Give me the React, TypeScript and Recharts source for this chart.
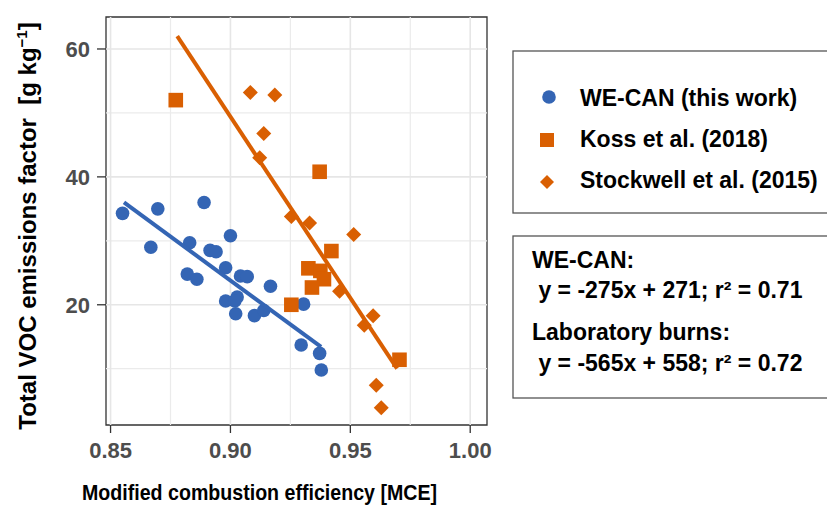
import React from 'react';
import { ScatterChart, Scatter, XAxis, YAxis, ReferenceLine, ReferenceArea } from 'recharts';

const BLUE = '#3465b4';
const ORANGE = '#d95f02';
const FONT = '"Liberation Sans", Arial, Helvetica, sans-serif';

// WE-CAN (this work)
const weCanMce = [0.855, 0.8697, 0.889, 0.8668, 0.883, 0.9, 0.8915, 0.894, 0.898, 0.882, 0.886, 0.9042,
  0.907, 0.9167, 0.898, 0.9028, 0.9018, 0.9022, 0.91, 0.9139, 0.9295, 0.9305, 0.9372, 0.9379];
const weCanEf = [34.3, 35.0, 36.0, 29.0, 29.7, 30.8, 28.5, 28.3, 25.8, 24.8, 24.0, 24.5,
  24.4, 22.9, 20.6, 21.2, 20.6, 18.6, 18.3, 19.1, 13.7, 20.1, 12.4, 9.8];

// Koss et al. (2018)
const kossMce = [0.8772, 0.9372, 0.9421, 0.9325, 0.9375, 0.939, 0.934, 0.9254, 0.9705];
const kossEf = [52.0, 40.8, 28.4, 25.7, 25.3, 24.0, 22.7, 20.0, 11.4];

// Stockwell et al. (2015)
const stockwellMce = [0.9083, 0.9185, 0.9139, 0.9122, 0.9254, 0.933, 0.9514, 0.9455, 0.9595, 0.9558, 0.9608, 0.9629];
const stockwellEf = [53.2, 52.8, 46.8, 43.0, 33.8, 32.8, 31.0, 22.1, 18.3, 16.8, 7.4, 3.9];

// fit line end points
const weCanFitMce = [0.8556, 0.9378];
const weCanFitEf = [36.0, 13.4];
const labFitMce = [0.8778, 0.9695];
const labFitEf = [62.0, 10.0];

const xTicks = [0.85, 0.9, 0.95, 1.0];
const xMinor = [0.875, 0.925, 0.975];
const yTicks = [20, 40, 60];
const yMinor = [10, 30, 50];
const xDomain: [number, number] = [0.8481, 1.007];
const yDomain: [number, number] = [1.2, 65];

const legendItems = ['WE-CAN (this work)', 'Koss et al. (2018)', 'Stockwell et al. (2015)'];
const equationLines = ['WE-CAN:', ' y = -275x + 271; r² = 0.71', 'Laboratory burns:', ' y = -565x + 558; r² = 0.72'];

const toPoints = (xs: number[], ys: number[]) => xs.map((mce, i) => ({ mce, ef: ys[i] }));

const weCanData = toPoints(weCanMce, weCanEf);
const kossData = toPoints(kossMce, kossEf);
const stockwellData = toPoints(stockwellMce, stockwellEf);
const weCanFit = toPoints(weCanFitMce, weCanFitEf);
const labFit = toPoints(labFitMce, labFitEf);

const Dot = (props: any) => <circle cx={props.cx} cy={props.cy} r={6.8} fill={BLUE} />;
const Square = (props: any) => (
  <rect x={props.cx - 7.3} y={props.cy - 7.3} width={14.6} height={14.6} fill={ORANGE} />
);
const Diamond = (props: any) => {
  const { cx, cy } = props;
  const r = 7.5;
  return <polygon points={`${cx},${cy - r} ${cx + r},${cy} ${cx},${cy + r} ${cx - r},${cy}`} fill={ORANGE} />;
};
const NoMark = () => <g />;

const tickStyle = { fill: '#4d4d4d', fontSize: 22, fontWeight: 'bold', fontFamily: FONT };

const Overlay: React.FC = () => (
  <svg
    width={827}
    height={506}
    style={{ position: 'absolute', left: 0, top: 0, pointerEvents: 'none' }}
    fontFamily={FONT}
    fontWeight="bold"
  >
    {/* axis titles */}
    <text x={82} y={500} fontSize={22} fill="#000" textLength={355} lengthAdjust="spacingAndGlyphs">
      Modified combustion efficiency [MCE]
    </text>
    <text x={36} y={226} fontSize={24} fill="#000" textAnchor="middle" transform="rotate(-90, 36, 226)">
      Total VOC emissions factor{'\u00a0\u00a0'}[g kg<tspan dy={-9} fontSize={15}>−1</tspan>
      <tspan dy={9}>]</tspan>
    </text>

    {/* legend */}
    <rect x={513} y={51} width={330} height={162} fill="#fff" stroke="#555" strokeWidth={1.3} />
    <circle cx={549} cy={97} r={6.8} fill={BLUE} />
    <rect x={540} y={133} width={14} height={14} fill={ORANGE} />
    <polygon points="547,175 554,182 547,189 540,182" fill={ORANGE} />
    {legendItems.map((label, i) => (
      <text key={label} x={580} y={106 + i * 41} fontSize={23} fill="#000">
        {label}
      </text>
    ))}

    {/* equations */}
    <rect x={513} y={236} width={330} height={162} fill="#fff" stroke="#555" strokeWidth={1.3} />
    {equationLines.map((line, i) => (
      <text
        key={line}
        x={532}
        y={[268, 298, 340, 371][i]}
        fontSize={23}
        fill="#000"
        style={{ whiteSpace: 'pre' }}
      >
        {line}
      </text>
    ))}
  </svg>
);

export default function App() {
  return (
    <div style={{ position: 'absolute', left: 0, top: 0, width: 827, height: 506, overflow: 'hidden', background: '#fff' }}>
      <ScatterChart width={827} height={506} margin={{ top: 17, right: 340, bottom: 31, left: 46 }}>
        {xMinor.map((v) => (
          <ReferenceLine key={`xm-${v}`} x={v} stroke="#ebebeb" strokeWidth={1.2} />
        ))}
        {yMinor.map((v) => (
          <ReferenceLine key={`ym-${v}`} y={v} stroke="#ebebeb" strokeWidth={1.2} />
        ))}
        {xTicks.map((v) => (
          <ReferenceLine key={`x-${v}`} x={v} stroke="#e6e6e6" strokeWidth={1.6} />
        ))}
        {yTicks.map((v) => (
          <ReferenceLine key={`y-${v}`} y={v} stroke="#e6e6e6" strokeWidth={1.6} />
        ))}
        <XAxis
          type="number"
          dataKey="mce"
          domain={xDomain}
          ticks={xTicks}
          interval={0}
          allowDataOverflow
          axisLine={false}
          tickLine={{ stroke: '#333', strokeWidth: 1.3 }}
          tickSize={8}
          tickMargin={9}
          height={50}
          tick={tickStyle}
          tickFormatter={(v: number) => v.toFixed(2)}
        />
        <YAxis
          type="number"
          dataKey="ef"
          domain={yDomain}
          ticks={yTicks}
          interval={0}
          allowDataOverflow
          axisLine={false}
          tickLine={{ stroke: '#333', strokeWidth: 1.3 }}
          tickSize={9}
          tickMargin={7}
          width={60}
          tick={tickStyle}
        />
        <Scatter data={weCanData} shape={Dot} isAnimationActive={false} />
        <Scatter data={kossData} shape={Square} isAnimationActive={false} />
        <Scatter data={stockwellData} shape={Diamond} isAnimationActive={false} />
        <Scatter
          data={weCanFit}
          shape={NoMark}
          line={{ stroke: BLUE, strokeWidth: 4 }}
          strokeWidth={4}
          isAnimationActive={false}
        />
        <Scatter
          data={labFit}
          shape={NoMark}
          line={{ stroke: ORANGE, strokeWidth: 4 }}
          strokeWidth={4}
          isAnimationActive={false}
        />
        <ReferenceArea
          x1={xDomain[0]}
          x2={xDomain[1]}
          y1={yDomain[0]}
          y2={yDomain[1]}
          fill="none"
          stroke="#333"
          strokeWidth={1.3}
          ifOverflow="visible"
        />
      </ScatterChart>
      <Overlay />
    </div>
  );
}
